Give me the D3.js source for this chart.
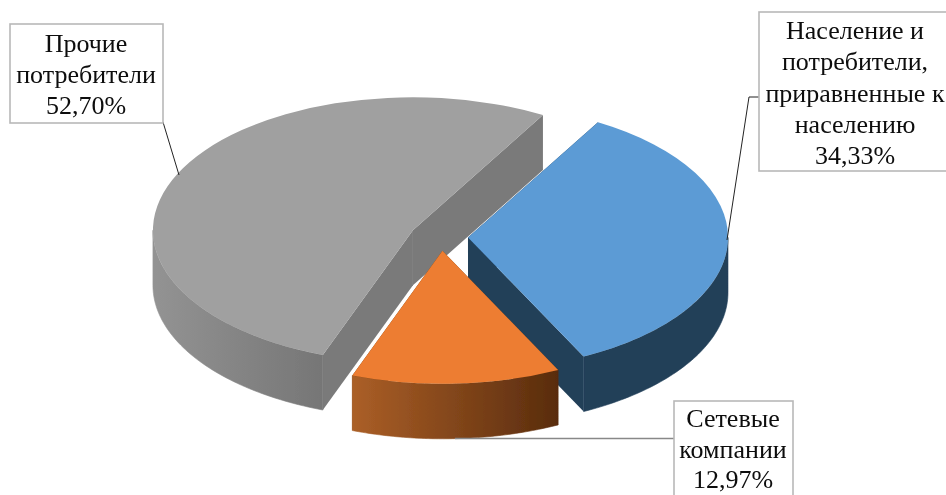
<!DOCTYPE html>
<html>
<head>
<meta charset="utf-8">
<script src="https://cdn.jsdelivr.net/npm/d3@7"></script>
<style>
  html, body { margin: 0; padding: 0; background: #fff; overflow: hidden; }
  svg { display: block; }
  text { font-family: "Liberation Serif", serif; font-size: 26px; fill: #0c0c0c; text-anchor: middle; }
</style>
</head>
<body>
<svg></svg>
<script>
// data
let categories = ['Население и потребители, приравненные к населению', 'Сетевые компании', 'Прочие потребители']
let shares = [34.33, 12.97, 52.70]
let shareLabels = ['34,33%', '12,97%', '52,70%']
let labelLines = [
    ['Население и', 'потребители,', 'приравненные к', 'населению'],
    ['Сетевые', 'компании'],
    ['Прочие', 'потребители']
]

let width = 946
let height = 495

// pie layout
let cx = 441
let cy = 237
let rx = 260
let ry = 133
let depth = 55
let tilt = ry / rx
let rotation = 30 * Math.PI / 180
let explode = [27, 27, 31]

let topColors = ['#5b9bd5', '#ed7d31', '#a0a0a0']
let wallColors = ['#223f59', 'url(#orangeWall)', 'url(#grayWall)']
let cutColors = ['#223f59', '#6b3a14', '#7a7a7a']

// label boxes: x, y, w, h, text center, first baseline, line step
let boxes = [
    {x: 759, y: 12, w: 195, h: 159, tx: 855, ty: 39, step: 31.3},
    {x: 674, y: 401, w: 119, h: 110, tx: 733, ty: 427, step: 30.5},
    {x: 10, y: 24, w: 153, h: 99, tx: 86, ty: 52, step: 31}
]
let leaders = [
    {pts: [[759, 97], [749, 97], [727, 240]], color: '#222', w: 1},
    {pts: [[674, 438.5], [455, 438.5]], color: '#888', w: 1.4},
    {pts: [[163, 122], [179, 175]], color: '#222', w: 1}
]

let svg = d3.select('svg').attr('width', width).attr('height', height)

let defs = svg.append('defs')

let addGradient = (id, from, to) => {
    let g = defs.append('linearGradient').attr('id', id)
    g.append('stop').attr('offset', '0%').attr('stop-color', from)
    g.append('stop').attr('offset', '100%').attr('stop-color', to)
}
addGradient('orangeWall', '#ab5f27', '#592c0d')
addGradient('grayWall', '#939393', '#767676')

// the reference is a slightly soft scan
defs.append('filter').attr('id', 'soft')
    .append('feGaussianBlur').attr('stdDeviation', 0.45)

let chart = svg.append('g').attr('filter', 'url(#soft)')

let slices = d3.pie().sort(null)
    .startAngle(rotation)
    .endAngle(rotation + 2 * Math.PI)(shares)

let midAngle = (d) => (d.startAngle + d.endAngle) / 2

let center = (i) => {
    let m = midAngle(slices[i])
    return [cx + explode[i] * Math.sin(m), cy - explode[i] * tilt * Math.cos(m)]
}

// pie angles are clockwise from the top
let point = (a, i, drop) => {
    return [center(i)[0] + rx * Math.sin(a), center(i)[1] - ry * Math.cos(a) + drop]
}

let arcPoints = (a0, a1, i, drop) => {
    let n = 60
    return d3.range(n + 1).map((k) => point(a0 + (a1 - a0) * k / n, i, drop))
}

let line = d3.line()

let arc = d3.arc().innerRadius(0).outerRadius(rx)

let drawSlice = (d, i) => {
    let g = chart.append('g').attr('class', 'slice')
    let c = center(i)
    let c2 = [c[0], c[1] + depth]

    // cut faces
    let a0 = d.startAngle
    let a1 = d.endAngle
    ;[a0, a1].forEach((a) => {
        let p = point(a, i, 0)
        let q = point(a, i, depth)
        g.append('path')
            .attr('d', line([c, p, q, c2]) + 'Z')
            .attr('fill', cutColors[i])
    })

    // outer wall, only the part facing the viewer
    let from = Math.max(a0, Math.PI / 2)
    let to = Math.min(a1, 3 * Math.PI / 2)
    if (from < to) {
        let top = arcPoints(from, to, i, 0)
        let bottom = arcPoints(to, from, i, depth)
        g.append('path')
            .attr('d', line(top.concat(bottom)) + 'Z')
            .attr('fill', wallColors[i])
            .attr('stroke', wallColors[i])
            .attr('stroke-width', 0.6)
    }

    // top face
    g.append('path')
        .attr('transform', 'translate(' + c[0] + ',' + c[1] + ') scale(1,' + tilt + ')')
        .attr('d', arc(d))
        .attr('fill', topColors[i])
}

// back slice first, the front one last
drawSlice(slices[2], 2)
drawSlice(slices[0], 0)
drawSlice(slices[1], 1)

leaders.forEach((l) => {
    chart.append('path')
        .attr('d', line(l.pts))
        .attr('fill', 'none')
        .attr('stroke', l.color)
        .attr('stroke-width', l.w)
})

categories.forEach((name, i) => {
    let b = boxes[i]
    let g = chart.append('g').attr('class', 'label')
    g.append('rect')
        .attr('x', b.x).attr('y', b.y)
        .attr('width', b.w).attr('height', b.h)
        .attr('fill', '#fff')
        .attr('stroke', '#b8b8b8')
        .attr('stroke-width', 1.6)
    labelLines[i].concat([shareLabels[i]]).forEach((t, k) => {
        g.append('text')
            .attr('x', b.tx)
            .attr('y', b.ty + k * b.step)
            .text(t)
    })
})
</script>
</body>
</html>
